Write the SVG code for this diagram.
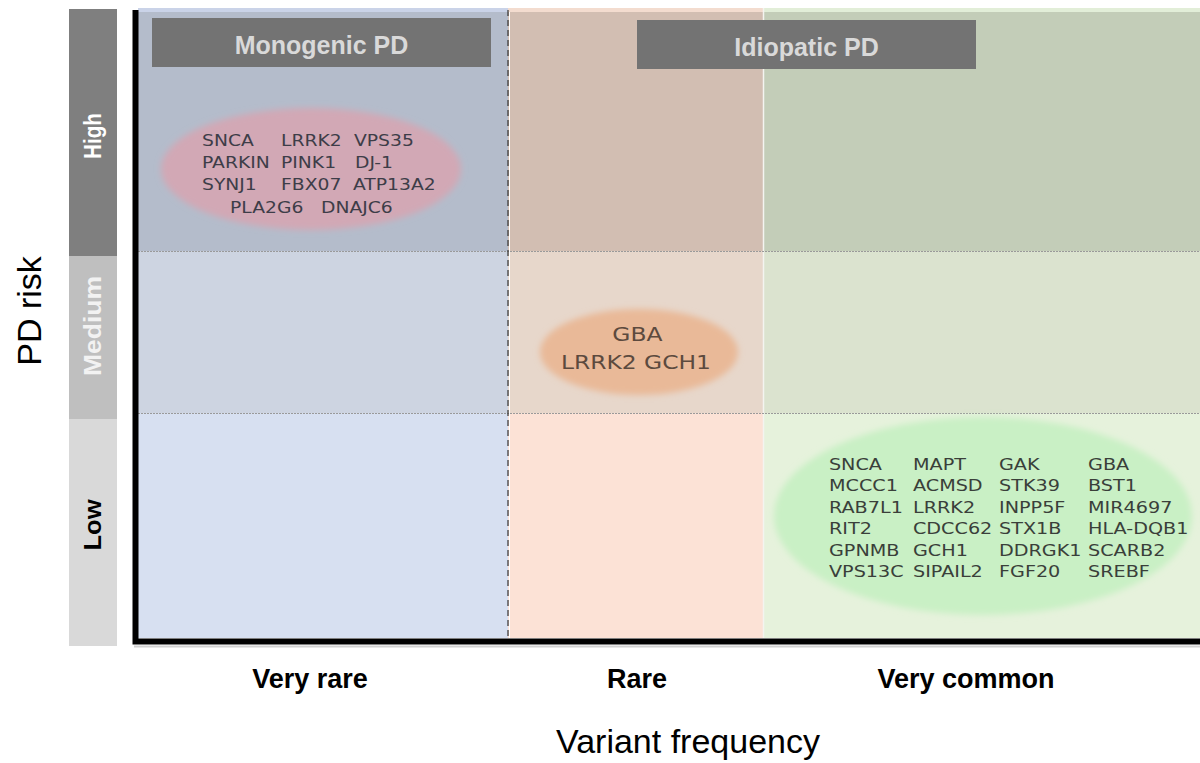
<svg xmlns="http://www.w3.org/2000/svg" width="1200" height="763" viewBox="0 0 1200 763">
<defs>
<style>
.band{font-family:"Liberation Sans",Arial,sans-serif;font-weight:bold;font-size:23px}
.hdr{font-family:"Liberation Sans",Arial,sans-serif;font-weight:bold;font-size:25px;fill:#d9d9d9;text-anchor:middle}
.xl{font-family:"Liberation Sans",Arial,sans-serif;font-weight:bold;font-size:27px;fill:#000;text-anchor:middle}
.ax{font-family:"Liberation Sans",Arial,sans-serif;font-size:34px;fill:#000;text-anchor:middle}
.gene{font-family:"DejaVu Sans",Verdana,sans-serif}
.grid{stroke:#9a9a9a;stroke-width:1;stroke-dasharray:2 1;fill:none}
</style>
<filter id="soft" x="-10%" y="-10%" width="120%" height="120%"><feGaussianBlur stdDeviation="3"/></filter>
</defs>
<rect width="1200" height="763" fill="#ffffff"/>

<g id="risk-bands">
<rect x="69" y="9" width="48" height="247" fill="#7f7f7f"/>
<rect x="69" y="256" width="48" height="163" fill="#bfbfbf"/>
<rect x="69" y="419" width="48" height="227" fill="#d9d9d9"/>
<text class="band" fill="#ffffff" transform="translate(93,136) rotate(-90)" text-anchor="middle" dy="0.35em" textLength="46" lengthAdjust="spacingAndGlyphs">High</text>
<text class="band" fill="#f2f2f2" transform="translate(93,326) rotate(-90)" text-anchor="middle" dy="0.35em" textLength="100" lengthAdjust="spacingAndGlyphs">Medium</text>
<text class="band" fill="#000000" transform="translate(93,525) rotate(-90)" text-anchor="middle" dy="0.35em" textLength="51" lengthAdjust="spacingAndGlyphs">Low</text>
</g>

<g id="cells">
<rect x="138" y="8" width="370" height="4" fill="#cad3e8"/>
<rect x="138" y="12" width="370" height="239" fill="#b4bccb"/>
<rect x="138" y="251" width="370" height="162" fill="#cdd4e1"/>
<rect x="138" y="413" width="370" height="225" fill="#d7e0f1"/>
<rect x="508" y="8" width="255" height="4" fill="#f3dccf"/>
<rect x="508" y="12" width="255" height="239" fill="#d2beb2"/>
<rect x="508" y="251" width="255" height="162" fill="#e7d7cb"/>
<rect x="508" y="413" width="255" height="225" fill="#fce2d6"/>
<rect x="763" y="8" width="437" height="4" fill="#e2eed8"/>
<rect x="763" y="12" width="437" height="239" fill="#c3cdb8"/>
<rect x="763" y="251" width="437" height="162" fill="#dbe3cf"/>
<rect x="763" y="413" width="437" height="225" fill="#e6f2dc"/>
<line x1="763.5" y1="8" x2="763.5" y2="638" stroke="#f4f4f0" stroke-width="1.5"/>
</g>

<g id="grid">
<line class="grid" x1="138" y1="251.5" x2="1200" y2="251.5"/>
<line class="grid" x1="138" y1="413.5" x2="1200" y2="413.5"/>
<line x1="509.5" y1="12" x2="509.5" y2="638" stroke="#ffffff" stroke-width="1"/>
<line x1="508" y1="10" x2="508" y2="638" stroke="#333333" stroke-width="1.2" stroke-dasharray="6 4"/>
</g>

<g id="header-monogenic">
<rect x="152" y="18" width="339" height="49" fill="#737373"/>
<text class="hdr" x="321.5" y="54">Monogenic PD</text>
</g>
<g id="header-idiopatic">
<rect x="637" y="20" width="339" height="49" fill="#737373"/>
<text class="hdr" x="806.5" y="56">Idiopatic PD</text>
</g>

<g id="ellipse-high">
<ellipse cx="311" cy="169" rx="150" ry="61" fill="#d2a8b5" filter="url(#soft)"/>
<g transform="scale(1.25,1)" class="gene" font-size="15" fill="#3d3d48">
<text y="146"><tspan x="161.6">SNCA</tspan><tspan x="224.8">LRRK2</tspan><tspan x="283.2">VPS35</tspan></text>
<text y="168"><tspan x="161.6">PARKIN</tspan><tspan x="224.8">PINK1</tspan><tspan x="284">DJ-1</tspan></text>
<text y="190"><tspan x="161.6">SYNJ1</tspan><tspan x="224.8">FBX07</tspan><tspan x="282.4">ATP13A2</tspan></text>
<text y="213"><tspan x="184">PLA2G6</tspan><tspan x="256.8">DNAJC6</tspan></text>
</g>
</g>

<g id="ellipse-medium">
<ellipse cx="639" cy="352" rx="99" ry="43" fill="#e9b998" filter="url(#soft)"/>
<g transform="scale(1.2,1)" class="gene" font-size="19.5" fill="#5c4a3e" text-anchor="middle">
<text x="531.2" y="341">GBA</text>
<text x="530" y="369">LRRK2 GCH1</text>
</g>
</g>

<g id="ellipse-low">
<ellipse cx="983" cy="516" rx="209" ry="99" fill="#c9f0c5" filter="url(#soft)"/>
<g transform="scale(1.2,1)" class="gene" font-size="16" fill="#3a3f3a">
<text y="470"><tspan x="690.8">SNCA</tspan><tspan x="760.8">MAPT</tspan><tspan x="832.5">GAK</tspan><tspan x="906.7">GBA</tspan></text>
<text y="491.5"><tspan x="690.8">MCCC1</tspan><tspan x="760.8">ACMSD</tspan><tspan x="832.5">STK39</tspan><tspan x="906.7">BST1</tspan></text>
<text y="513"><tspan x="690.8">RAB7L1</tspan><tspan x="760.8">LRRK2</tspan><tspan x="832.5">INPP5F</tspan><tspan x="906.7">MIR4697</tspan></text>
<text y="534.5"><tspan x="690.8">RIT2</tspan><tspan x="760.8">CDCC62</tspan><tspan x="832.5">STX1B</tspan><tspan x="906.7">HLA-DQB1</tspan></text>
<text y="556"><tspan x="690.8">GPNMB</tspan><tspan x="760.8">GCH1</tspan><tspan x="832.5">DDRGK1</tspan><tspan x="906.7">SCARB2</tspan></text>
<text y="577"><tspan x="690.8">VPS13C</tspan><tspan x="760.8">SIPAIL2</tspan><tspan x="832.5">FGF20</tspan><tspan x="906.7">SREBF</tspan></text>
</g>
</g>

<g id="axes">
<line x1="134" y1="646.5" x2="1200" y2="646.5" stroke="#d0d0d0" stroke-width="2"/>
<polyline points="135.5,10 135.5,641.5 1200,641.5" fill="none" stroke="#000000" stroke-width="6"/>
</g>

<g id="labels">
<text class="xl" x="310" y="688">Very rare</text>
<text class="xl" x="637" y="688">Rare</text>
<text class="xl" x="966" y="688">Very common</text>
<text class="ax" x="688" y="753">Variant frequency</text>
<text class="ax" transform="translate(41,311) rotate(-90)">PD risk</text>
</g>
</svg>
